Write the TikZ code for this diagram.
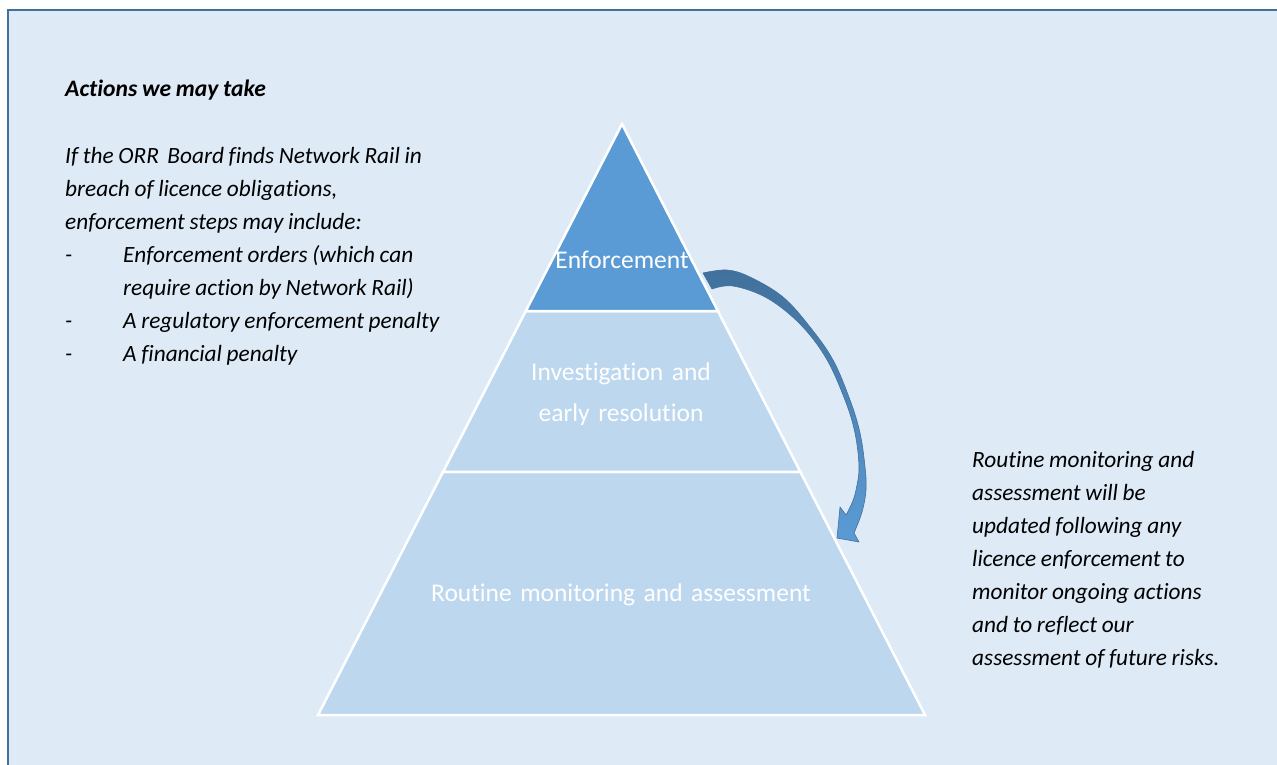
\documentclass[tikz,border=0pt]{standalone}
\usepackage{fontspec}
\setmainfont[Ligatures=NoCommon]{Carlito}
\usetikzlibrary{calc}
\definecolor{bgblue}{HTML}{DEEAF6}
\definecolor{framec}{HTML}{41719C}
\definecolor{topblue}{HTML}{5B9BD5}
\definecolor{lowblue}{HTML}{BDD7EE}
\definecolor{arrowdark}{HTML}{41719C}
\newcommand\mytightsp{\spaceskip=0.2em plus 0.1em minus 0.05em\relax}
\tikzset{
  band/.style={draw=white, line width=2.5pt, line join=miter},
  sidetext/.style={inner sep=0pt, anchor=base west, align=left, font=\fontsize{23.3}{33.1}\selectfont\itshape, text=black, execute at begin node=\mytightsp},
  pyrtext/.style={inner sep=0pt, anchor=base, align=center, text width=500pt, text=white, font=\fontsize{25.5}{41.7}\selectfont},
}
\begin{document}
\begin{tikzpicture}[x=1pt,y=-1pt]
\useasboundingbox (0,0) rectangle (1277,764);
\fill[white] (0,0) rectangle (1277,764);
\draw[framec, line width=2.5pt, fill=bgblue] (8,10) rectangle (1300,790);

\coordinate (A) at (622,124);
\coordinate (BL) at (318,715);
\coordinate (BR) at (925,715);
\coordinate (L1) at ($(A)!0.3164!(BL)$);
\coordinate (R1) at ($(A)!0.3164!(BR)$);
\coordinate (L2) at ($(A)!0.5888!(BL)$);
\coordinate (R2) at ($(A)!0.5888!(BR)$);

\filldraw[band, fill=lowblue] (L2) -- (R2) -- (BR) -- (BL) -- cycle;
\filldraw[band, fill=lowblue] (L1) -- (R1) -- (R2) -- (L2) -- cycle;
\filldraw[band, fill=topblue] (A) -- (R1) -- (L1) -- cycle;

\node[pyrtext] (enf) at (622,268) {Enforcement};
\node[pyrtext] (inv) at (621,380) {Investigation and\\early resolution};
\node[pyrtext] (rout) at (621,601) {Routine monitoring and assessment};

% curved arrow
\shade[top color=arrowdark, bottom color=topblue, draw=framec, line width=0.6pt, line join=round]
  plot[smooth, tension=0.6] coordinates {(703,273) (727,270) (750,277) (783,297) (810,327) (833,360) (850,400) (860,433) (865,467) (866,490) (862,512) (854,533)}
  -- (859,542) -- (837,538) -- (840,507) -- (846,515)
  -- plot[smooth, tension=0.6] coordinates {(846,515) (852,503) (856,490) (859,467) (855,433) (845,400) (826,358) (800,324) (767,298) (733,286) (712,289)}
  -- cycle;

\node[sidetext, font=\fontsize{23.6}{33.1}\selectfont\bfseries\itshape] (title) at (65,96) {Actions we may take};
\node[sidetext, text width=420pt] (left) at (65,163) {If the ORR\, Board finds Network Rail in\\
breach of licence obligations,\\
enforcement steps may include:\\
\makebox[58pt][l]{-}Enforcement orders (which can\\
\hspace*{58pt}require action by Network Rail)\\
\makebox[58pt][l]{-}A regulatory enforcement penalty\\
\makebox[58pt][l]{-}A financial penalty};

\node[sidetext, text width=290pt] (right) at (972,467) {Routine monitoring and\\
assessment will be\\
updated following any\\
licence enforcement to\\
monitor ongoing actions\\
and to reflect our\\
assessment of future risks.};
\end{tikzpicture}
\end{document}
